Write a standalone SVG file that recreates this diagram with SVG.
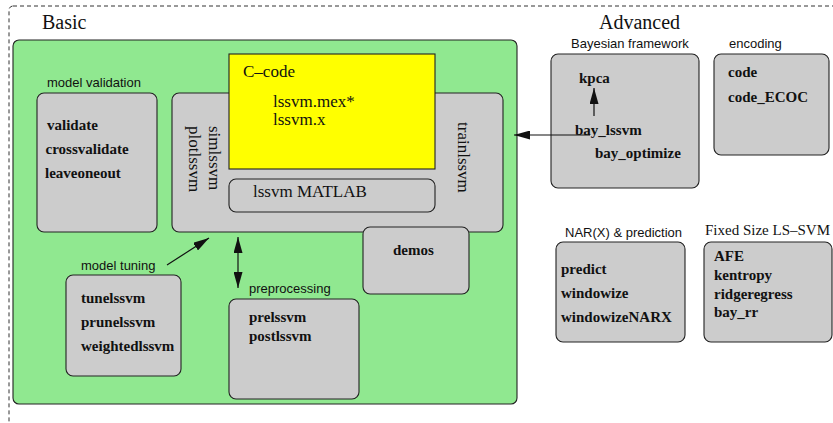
<svg xmlns="http://www.w3.org/2000/svg" width="833" height="423" viewBox="0 0 833 423">
<defs>
<style>
.box{fill:#cccccc;stroke:#222;stroke-width:1.1}
.lab{font-family:"Liberation Sans",Arial,sans-serif;font-size:13px;fill:#111}
.item{font-family:"Liberation Serif","Times New Roman",serif;font-size:15px;font-weight:bold;fill:#111}
.ser{font-family:"Liberation Serif","Times New Roman",serif;font-size:17px;fill:#111}
.big{font-family:"Liberation Serif","Times New Roman",serif;font-size:20px;fill:#111}
.con{stroke:#111;stroke-width:1.2;fill:none}
</style>
<marker id="ah" viewBox="0 0 16 9" refX="16" refY="4.5" markerWidth="16" markerHeight="9" markerUnits="userSpaceOnUse" orient="auto-start-reverse">
<path d="M0,0 L16,4.5 L0,9 z" fill="#111"/>
</marker>
</defs>
<rect width="833" height="423" fill="#ffffff"/>
<rect x="9" y="6" width="840" height="440" rx="4" fill="none" stroke="#333" stroke-width="1" stroke-dasharray="4,3"/>
<text class="big" x="42" y="29">Basic</text>
<text class="big" x="599" y="29">Advanced</text>
<g id="basic">
<rect x="13" y="40" width="504" height="364" rx="6" fill="#90e890" stroke="#222" stroke-width="1.1"/>
</g>
<g id="core">
<rect class="box" x="172" y="93" width="331" height="139" rx="7"/>
<text class="ser" transform="translate(209,126) rotate(90)">simlssvm</text>
<text class="ser" transform="translate(189,126) rotate(90)">plotlssvm</text>
<text class="ser" transform="translate(458,122) rotate(90)">trainlssvm</text>
</g>
<g id="ccode">
<rect x="229" y="54" width="206" height="115" fill="#ffff00" stroke="#222" stroke-width="1.1"/>
<text class="ser" x="243" y="77">C–code</text>
<text class="ser" x="273" y="107">lssvm.mex*</text>
<text class="ser" x="273" y="125">lssvm.x</text>
</g>
<g id="matlab">
<rect class="box" x="229" y="179" width="206" height="33" rx="7"/>
<text class="ser" x="253" y="197">lssvm MATLAB</text>
</g>
<g id="validation">
<text class="lab" x="47" y="87">model validation</text>
<rect class="box" x="37" y="93" width="120" height="139" rx="7"/>
<text class="item" x="47" y="130">validate</text>
<text class="item" x="45.5" y="154">crossvalidate</text>
<text class="item" x="45" y="178">leaveoneout</text>
</g>
<g id="demos">
<rect class="box" x="363" y="227" width="106" height="67" rx="7"/>
<text class="item" x="393" y="255">demos</text>
</g>
<g id="tuning">
<text class="lab" x="81" y="270">model tuning</text>
<rect class="box" x="66" y="275" width="115" height="101" rx="7"/>
<text class="item" x="81" y="303">tunelssvm</text>
<text class="item" x="81" y="327">prunelssvm</text>
<text class="item" x="81" y="351">weightedlssvm</text>
</g>
<g id="preprocessing">
<text class="lab" x="249" y="293">preprocessing</text>
<rect class="box" x="229" y="299" width="130" height="100" rx="7"/>
<text class="item" x="249" y="322">prelssvm</text>
<text class="item" x="249" y="341">postlssvm</text>
</g>
<g id="bayesian">
<text class="lab" x="571" y="48">Bayesian framework</text>
<rect class="box" x="551" y="54" width="148" height="134" rx="7"/>
<text class="item" x="579" y="83">kpca</text>
<text class="item" x="575" y="135">bay_lssvm</text>
<text class="item" x="595" y="158">bay_optimize</text>
</g>
<g id="encoding">
<text class="lab" x="729" y="48">encoding</text>
<rect class="box" x="714" y="54" width="115" height="101" rx="7"/>
<text class="item" x="728" y="77">code</text>
<text class="item" x="728" y="102">code_ECOC</text>
</g>
<g id="narx">
<text class="lab" x="565" y="237">NAR(X) &amp; prediction</text>
<rect class="box" x="556" y="242" width="129" height="100" rx="7"/>
<text class="item" x="561" y="274">predict</text>
<text class="item" x="561" y="298">windowize</text>
<text class="item" x="561" y="322">windowizeNARX</text>
</g>
<g id="fixedsize">
<text class="ser" style="font-size:15px" x="705" y="235">Fixed Size LS–SVM</text>
<rect class="box" x="704" y="242" width="128" height="100" rx="7"/>
<text class="item" x="714" y="261">AFE</text>
<text class="item" x="714" y="280">kentropy</text>
<text class="item" x="714" y="299">ridgeregress</text>
<text class="item" x="714" y="317">bay_rr</text>
</g>
<g id="connectors">
<line class="con" x1="167" y1="265" x2="209" y2="238" marker-end="url(#ah)"/>
<line class="con" x1="238" y1="237" x2="238" y2="288" marker-start="url(#ah)" marker-end="url(#ah)"/>
<line class="con" x1="594" y1="116" x2="594" y2="88" marker-end="url(#ah)"/>
<line class="con" x1="590" y1="135" x2="514" y2="135" marker-end="url(#ah)"/>
</g>
</svg>
